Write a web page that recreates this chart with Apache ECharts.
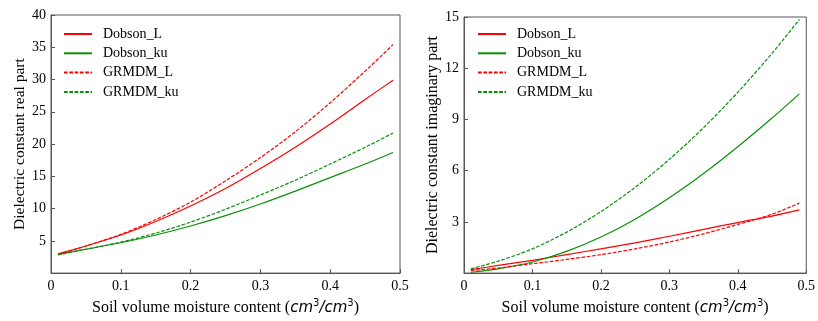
<!DOCTYPE html>
<html>
<head>
<meta charset="utf-8">
<script src="https://cdn.jsdelivr.net/npm/echarts@6/dist/echarts.min.js"></script>
<style>
html,body{margin:0;padding:0;background:#fff;}
#c{width:818px;height:321px;}
</style>
</head>
<body>
<div id="c"></div>
<script>
// Soil volume moisture content (cm3/cm3)
var moisture = [0.01, 0.05, 0.1, 0.15, 0.2, 0.25, 0.3, 0.35, 0.4, 0.45, 0.49];

// Real part
var realDobsonL   = [3.0, 4.2, 5.9, 8.0, 10.4, 13.1, 16.2, 19.5, 23.1, 26.9, 29.9];
var realDobsonKu  = [2.9, 3.7, 4.7, 5.9, 7.3, 8.9, 10.7, 12.7, 14.8, 16.9, 18.7];
var realGrmdmL    = [2.9, 4.2, 6.0, 8.3, 11.0, 14.3, 17.9, 21.9, 26.4, 31.3, 35.4];
var realGrmdmKu   = [2.8, 3.7, 4.8, 6.2, 7.9, 9.9, 12.1, 14.4, 16.9, 19.5, 21.7];

// Imaginary part
var imagDobsonL   = [0.2, 0.45, 0.75, 1.08, 1.42, 1.77, 2.16, 2.56, 2.96, 3.34, 3.7];
var imagDobsonKu  = [0.05, 0.25, 0.65, 1.27, 2.11, 3.16, 4.41, 5.83, 7.4, 9.08, 10.5];
var imagGrmdmL    = [0.15, 0.3, 0.55, 0.8, 1.08, 1.42, 1.82, 2.3, 2.85, 3.45, 4.1];
var imagGrmdmKu   = [0.25, 0.7, 1.42, 2.4, 3.6, 5.02, 6.66, 8.52, 10.59, 12.87, 14.86];

var seriesNames = ['Dobson_L', 'Dobson_ku', 'GRMDM_L', 'GRMDM_ku'];
var xTicks = { min: 0, max: 0.5, interval: 0.1 };
var yRealTicks = { min: 0, max: 40, interval: 5 };
var yImagTicks = { min: 0, max: 15, interval: 3 };

var RED = '#ff0000', GREEN = '#0a8f0a';
var SERIF = '"Liberation Serif", "Times New Roman", serif';
var DASH = [3.7, 1.6];

function pairs(ys) { return moisture.map(function (x, i) { return [x, ys[i]]; }); }

function mkSeries(name, ys, idx, color, dashed) {
  return {
    name: name, type: 'line', xAxisIndex: idx, yAxisIndex: idx,
    data: pairs(ys), smooth: 0.3, symbol: 'none', showSymbol: false,
    lineStyle: { color: color, width: 1.2, type: dashed ? DASH : 'solid' },
    itemStyle: { color: color },
    silent: true, animation: false
  };
}

var xName = '{a|Soil volume moisture content (}{m|cm}{s|3}{m|/cm}{s|3}{a|)}';
var xNameStyle = {
  rich: {
    a: { fontFamily: SERIF, fontSize: 16, color: '#000', lineHeight: 20 },
    m: { fontFamily: '"DejaVu Sans"', fontStyle: 'italic', fontSize: 15, color: '#000', lineHeight: 20 },
    s: { fontFamily: '"DejaVu Sans"', fontSize: 10, color: '#000', verticalAlign: 'top', lineHeight: 12 }
  }
};

function xAxis(idx) {
  return {
    type: 'value', gridIndex: idx, min: xTicks.min, max: xTicks.max, interval: xTicks.interval,
    name: xName, nameLocation: 'middle', nameGap: 20, nameTextStyle: xNameStyle,
    axisLine: { show: true, lineStyle: { color: '#555', width: 1 } },
    axisTick: { show: true, inside: true, length: 4, lineStyle: { color: '#555' } },
    axisLabel: { color: '#000', fontFamily: SERIF, fontSize: 14, margin: 6 },
    splitLine: { show: false }
  };
}
function yAxis(idx, t, name, gap, size) {
  return {
    type: 'value', gridIndex: idx, min: t.min, max: t.max, interval: t.interval,
    name: name, nameLocation: 'middle', nameGap: gap,
    nameTextStyle: { fontFamily: SERIF, fontSize: size, color: '#000' },
    axisLine: { show: true, lineStyle: { color: '#555', width: 1 } },
    axisTick: { show: true, inside: true, length: 4, lineStyle: { color: '#555' } },
    axisLabel: { color: '#000', fontFamily: SERIF, fontSize: 14, margin: 5, showMinLabel: false },
    splitLine: { show: false }
  };
}
function legend(left) {
  return {
    data: seriesNames, orient: 'vertical', left: left, top: 27, padding: 0,
    itemWidth: 28, itemHeight: 14, itemGap: 5.3, selectedMode: false,
    itemStyle: { opacity: 0 },
    textStyle: { fontFamily: SERIF, fontSize: 14, color: '#000', padding: [0, 0, 0, 6] }
  };
}

var chart = echarts.init(document.getElementById('c'), null, { renderer: 'canvas' });
chart.setOption({
  animation: false,
  backgroundColor: '#fff',
  grid: [
    { left: 51, top: 15, width: 349, height: 261, show: true, borderColor: '#555', borderWidth: 1, backgroundColor: 'transparent' },
    { left: 464, top: 17, width: 349, height: 260, show: true, borderColor: '#555', borderWidth: 1, backgroundColor: 'transparent' }
  ],
  legend: [legend(63), legend(477)],
  xAxis: [xAxis(0), xAxis(1)],
  yAxis: [yAxis(0, yRealTicks, 'Dielectric constant real part', 22, 15.5), yAxis(1, yImagTicks, 'Dielectric constant imaginary part', 16, 16)],
  series: [
    mkSeries('Dobson_L', realDobsonL, 0, RED, false),
    mkSeries('Dobson_ku', realDobsonKu, 0, GREEN, false),
    mkSeries('GRMDM_L', realGrmdmL, 0, RED, true),
    mkSeries('GRMDM_ku', realGrmdmKu, 0, GREEN, true),
    mkSeries('Dobson_L', imagDobsonL, 1, RED, false),
    mkSeries('Dobson_ku', imagDobsonKu, 1, GREEN, false),
    mkSeries('GRMDM_L', imagGrmdmL, 1, RED, true),
    mkSeries('GRMDM_ku', imagGrmdmKu, 1, GREEN, true)
  ]
});
</script>
</body>
</html>
